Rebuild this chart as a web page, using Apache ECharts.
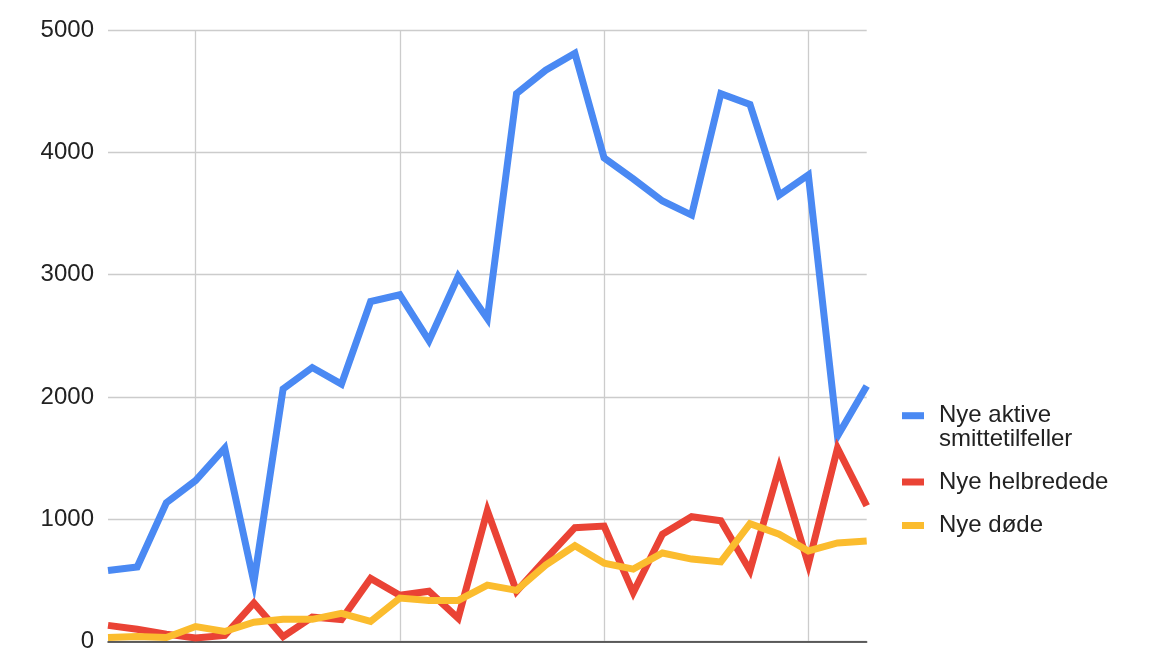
<!DOCTYPE html>
<html>
<head>
<meta charset="utf-8">
<script src="https://cdn.jsdelivr.net/npm/echarts@6/dist/echarts.min.js"></script>
<style>
html,body{margin:0;padding:0;background:#fff;}
#c{width:1162px;height:654px;}
</style>
</head>
<body>
<div id="c"></div>
<script>
// ---- data ----
const categories = ['1','2','3','4','5','6','7','8','9','10','11','12','13','14','15','16','17','18','19','20','21','22','23','24','25','26','27'];
const activeCases = [580, 610, 1135, 1316, 1580, 485, 2065, 2240, 2105, 2780, 2835, 2460, 2985, 2640, 4480, 4671, 4810, 3954, 3783, 3602, 3487, 4480, 4391, 3650, 3815, 1680, 2089];
const recovered   = [132, 100, 60, 28, 50, 315, 40, 200, 180, 516, 378, 411, 190, 1070, 410, 674, 931, 944, 400, 878, 1020, 987, 580, 1420, 630, 1580, 1110];
const deaths      = [33, 40, 33, 122, 82, 158, 181, 181, 230, 164, 355, 336, 336, 461, 418, 625, 783, 641, 592, 724, 674, 651, 964, 878, 740, 806, 822];
const yTicks = [0, 1000, 2000, 3000, 4000, 5000];
const seriesNames = ['Nye aktive smittetilfeller', 'Nye helbredede', 'Nye døde'];
const legendLabels = ['\nNye aktive\nsmittetilfeller', 'Nye helbredede', 'Nye døde'];
const weekLineIdx = [3, 10, 17, 24];
const colors = ['#4A89F3', '#EA4335', '#FBBC2E'];

const FONT = '"Liberation Sans", Arial, sans-serif';
const chart = echarts.init(document.getElementById('c'), null, {renderer: 'canvas'});

function legendItem(i, top) {
  return {
    data: [seriesNames[i]],
    orient: 'vertical',
    left: 902,
    top: top,
    padding: 0,
    icon: 'rect',
    itemWidth: 22,
    itemHeight: 7,
    selectedMode: false,
    formatter: function () { return legendLabels[i]; },
    textStyle: {
      fontFamily: FONT,
      fontSize: 24,
      lineHeight: 24,
      color: '#222',
      padding: [0, 0, 0, 10]
    }
  };
}

const dataSets = [activeCases, recovered, deaths];

chart.setOption({
  animation: false,
  backgroundColor: '#fff',
  grid: {left: 108, right: 295.3, top: 30, bottom: 12.5, containLabel: false},
  legend: [
    legendItem(0, 379.7),
    legendItem(1, 470),
    legendItem(2, 513.5)
  ],
  xAxis: {
    type: 'category',
    data: categories,
    boundaryGap: false,
    axisLine: {show: true, lineStyle: {color: '#333', width: 1.5}},
    axisTick: {show: false},
    axisLabel: {show: false},
    splitLine: {
      show: true,
      interval: function (idx) { return weekLineIdx.indexOf(idx) >= 0; },
      lineStyle: {color: '#cccccc', width: 1.3}
    }
  },
  yAxis: {
    type: 'value',
    min: yTicks[0],
    max: yTicks[yTicks.length - 1],
    interval: yTicks[1] - yTicks[0],
    axisLine: {show: false},
    axisTick: {show: false},
    axisLabel: {
      fontFamily: FONT,
      fontSize: 24,
      color: '#222',
      margin: 14,
      formatter: function (v) { return String(v); }
    },
    splitLine: {show: true, lineStyle: {color: '#cccccc', width: 1.3}}
  },
  series: dataSets.map(function (d, i) {
    return {
      name: seriesNames[i],
      type: 'line',
      data: d,
      symbol: 'none',
      showSymbol: false,
      color: colors[i],
      lineStyle: {color: colors[i], width: 7, join: 'miter', cap: 'butt'},
      z: 3 + i
    };
  })
});
</script>
</body>
</html>
